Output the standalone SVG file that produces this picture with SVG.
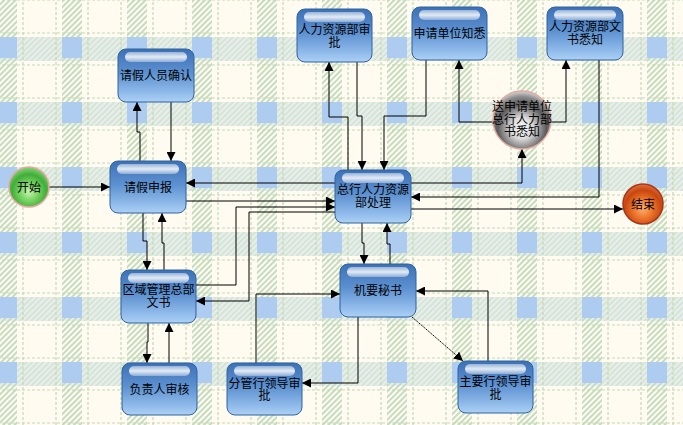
<svg xmlns="http://www.w3.org/2000/svg" width="683" height="425" viewBox="0 0 683 425">
<defs>
<pattern id="hatch" width="4" height="4" patternUnits="userSpaceOnUse" patternTransform="rotate(45)"><rect width="2" height="4" fill="#C6DCC1"/></pattern>
<pattern id="bhatch" width="4" height="4" patternUnits="userSpaceOnUse" patternTransform="rotate(45)"><rect width="4" height="4" fill="#DCE8F4"/><rect width="2" height="4" fill="#C6DCC1"/></pattern>
<pattern id="bg" x="-3" y="37" width="65" height="65" patternUnits="userSpaceOnUse">
<rect width="65" height="65" fill="#FFFBF0"/>
<rect x="0" y="0" width="20" height="65" fill="url(#hatch)"/>
<rect x="0" y="-3" width="65" height="27" fill="url(#bhatch)" opacity="0.7"/>
<rect x="0" y="0" width="20" height="21" fill="#ADCCF0"/>
<g stroke="#C2D9B8" stroke-width="1.2" stroke-dasharray="3 2" fill="none">
<line x1="26" y1="0" x2="26" y2="65"/><line x1="59" y1="0" x2="59" y2="65"/>
<line x1="0" y1="28" x2="65" y2="28"/><line x1="0" y1="61" x2="65" y2="61"/>
</g>
</pattern>
<linearGradient id="nodeg" x1="0" y1="0" x2="0" y2="1">
<stop offset="0" stop-color="#3D71B6"/><stop offset="0.45" stop-color="#5C90D0"/><stop offset="0.85" stop-color="#94BEEC"/><stop offset="1" stop-color="#AED1F5"/>
</linearGradient>
<linearGradient id="gloss" x1="0" y1="0" x2="0" y2="1">
<stop offset="0" stop-color="#FFFFFF" stop-opacity="0.45"/><stop offset="0.5" stop-color="#FFFFFF" stop-opacity="0.85"/><stop offset="1" stop-color="#FFFFFF" stop-opacity="0.35"/>
</linearGradient>
<radialGradient id="greeng" cx="0.5" cy="0.62" r="0.62">
<stop offset="0" stop-color="#C8F5B4"/><stop offset="0.3" stop-color="#86DA6E"/><stop offset="0.7" stop-color="#3FAE38"/><stop offset="1" stop-color="#8AD27A"/>
</radialGradient>
<radialGradient id="redg" cx="0.5" cy="0.62" r="0.62">
<stop offset="0" stop-color="#FBB070"/><stop offset="0.35" stop-color="#F07A30"/><stop offset="0.75" stop-color="#C8460E"/><stop offset="1" stop-color="#E07040"/>
</radialGradient>
<radialGradient id="grayg" cx="0.5" cy="0.64" r="0.62">
<stop offset="0" stop-color="#FFFFFF"/><stop offset="0.3" stop-color="#DADADA"/><stop offset="0.68" stop-color="#5A5A5A"/><stop offset="0.88" stop-color="#8E8E8E"/><stop offset="1" stop-color="#C8C8C8"/>
</radialGradient>
<marker id="arr" viewBox="0 0 10 10" refX="10" refY="5" markerWidth="9" markerHeight="9" markerUnits="userSpaceOnUse" orient="auto"><path d="M0,0 L10,5 L0,10 z" fill="#000"/></marker>
</defs>
<style>
.box{fill:url(#nodeg);stroke:#2F63A0;stroke-width:1}
.gl{fill:url(#gloss)}
.t{font-family:"Noto Sans CJK SC","Liberation Sans",sans-serif;font-size:12px;fill:#000;text-anchor:middle}
.c{fill:none;stroke:#000;stroke-width:1;marker-end:url(#arr)}
</style>
<rect width="683" height="425" fill="url(#bg)"/>

<g id="connectors">
<path class="c" d="M49,187 H110"/>
<path class="c" d="M140,161 V132 H137 V102"/>
<path class="c" d="M171,102 V161"/>
<path class="c" d="M335,183 H186"/>
<path class="c" d="M186,201 H335"/>
<path class="c" d="M196,285 H236 V207 H335"/>
<path class="c" d="M335,212 H249 V301 H196"/>
<path class="c" d="M143,213 V241 H147 V270"/>
<path class="c" d="M164,270 V243 H162 V213"/>
<path class="c" d="M148,323 V342 H147 V363"/>
<path class="c" d="M169,363 V323"/>
<path class="c" d="M358,317 V383 H302"/>
<path class="c" d="M256,363 V294 H340"/>
<path class="c" d="M362,223 V243 H364 V264"/>
<path class="c" d="M390,264 V244 H387 V223"/>
<path class="c" d="M412,317 L463,361" stroke-dasharray="1.5 0.8"/>
<path class="c" d="M488,361 V291 H416"/>
<path class="c" d="M348,170 V117 H329 V62"/>
<path class="c" d="M357,62 V116 H362 V170"/>
<path class="c" d="M426,60 V116 H384 V170"/>
<path class="c" d="M411,183 H522 V149"/>
<path class="c" d="M493,122 H459 V60"/>
<path class="c" d="M551,122 H566 V60"/>
<path class="c" d="M599,60 V197 H411"/>
<path class="c" d="M411,209 H623"/>
</g>

<g id="start"><circle cx="29" cy="187" r="20" fill="url(#greeng)" stroke="#E3A8A0" stroke-width="1.5"/><text class="t" x="29" y="191.5">开始</text></g>
<g id="end"><circle cx="643" cy="204" r="20" fill="url(#redg)" stroke="#A8361A" stroke-width="1.5"/><text class="t" x="643" y="208.5">结束</text></g>
<g id="notify"><circle cx="522" cy="120" r="29" fill="url(#grayg)" stroke="#E3A8A0" stroke-width="1.5"/>
<text class="t" x="522" y="111">送申请单位<tspan x="522" dy="12.5">总行人力部</tspan><tspan x="522" dy="12.5">书悉知</tspan></text></g>

<g id="n_confirm"><rect class="box" x="118" y="49" width="76" height="53" rx="8"/><rect class="gl" x="125" y="52" width="62" height="10" rx="5"/><text class="t" x="156" y="80">请假人员确认</text></g>
<g id="n_apply"><rect class="box" x="110" y="161" width="76" height="52" rx="8"/><rect class="gl" x="117" y="164" width="62" height="10" rx="5"/><text class="t" x="148" y="191.5">请假申报</text></g>
<g id="n_hrapprove"><rect class="box" x="297" y="9" width="75" height="53" rx="8"/><rect class="gl" x="304" y="12" width="61" height="10" rx="5"/><text class="t" x="334.5" y="34">人力资源部审<tspan x="334.5" dy="13">批</tspan></text></g>
<g id="n_unitknow"><rect class="box" x="412" y="7" width="75" height="53" rx="8"/><rect class="gl" x="419" y="10" width="61" height="10" rx="5"/><text class="t" x="449.5" y="38">申请单位知悉</text></g>
<g id="n_hrdocknow"><rect class="box" x="547" y="7" width="76" height="53" rx="8"/><rect class="gl" x="554" y="10" width="62" height="10" rx="5"/><text class="t" x="585" y="31">人力资源部文<tspan x="585" dy="13">书悉知</tspan></text></g>
<g id="n_hq"><rect class="box" x="335" y="170" width="76" height="53" rx="8"/><rect class="gl" x="342" y="173" width="62" height="10" rx="5"/><text class="t" x="373" y="194">总行人力资源<tspan x="373" dy="12.5">部处理</tspan></text></g>
<g id="n_region"><rect class="box" x="121" y="270" width="75" height="53" rx="8"/><rect class="gl" x="128" y="273" width="61" height="10" rx="5"/><text class="t" x="158.5" y="294">区域管理总部<tspan x="158.5" dy="13">文书</tspan></text></g>
<g id="n_head"><rect class="box" x="122" y="363" width="75" height="52" rx="8"/><rect class="gl" x="129" y="366" width="61" height="10" rx="5"/><text class="t" x="159.5" y="394">负责人审核</text></g>
<g id="n_vice"><rect class="box" x="227" y="363" width="75" height="52" rx="8"/><rect class="gl" x="234" y="366" width="61" height="10" rx="5"/><text class="t" x="264.5" y="387.5">分管行领导审<tspan x="264.5" dy="12.5">批</tspan></text></g>
<g id="n_secretary"><rect class="box" x="340" y="264" width="76" height="53" rx="8"/><rect class="gl" x="347" y="267" width="62" height="10" rx="5"/><text class="t" x="378" y="295">机要秘书</text></g>
<g id="n_chief"><rect class="box" x="458" y="361" width="75" height="52" rx="8"/><rect class="gl" x="465" y="364" width="61" height="10" rx="5"/><text class="t" x="495.5" y="386">主要行领导审<tspan x="495.5" dy="12.5">批</tspan></text></g>
</svg>
